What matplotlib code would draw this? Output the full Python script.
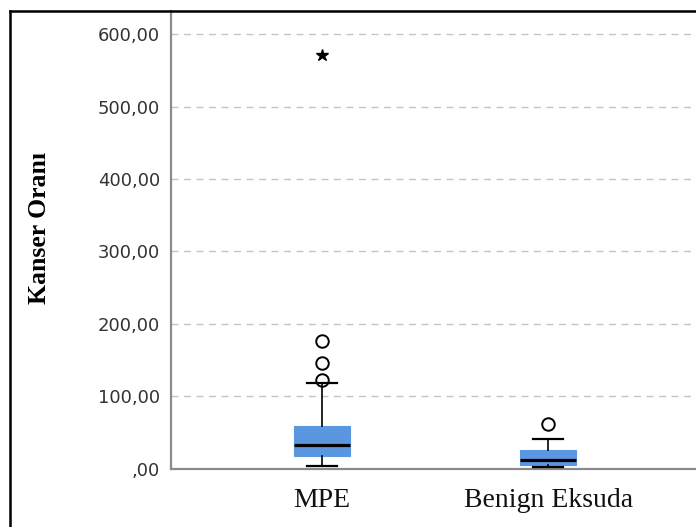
import matplotlib.pyplot as plt
from matplotlib.lines import Line2D

groups = ['MPE', 'Benign Eksuda']
q1 = [17.3, 4.8]
med = [32.5, 11.7]
q3 = [58.7, 25.6]
whislo = [3.5, 2.0]
whishi = [118.0, 40.7]
outliers = [[122.2, 145.3, 176.5], [61.5]]
extremes = [[571.0], []]

yticks = [0, 100, 200, 300, 400, 500, 600]
yticklabels = [',00', '100,00', '200,00', '300,00', '400,00', '500,00', '600,00']

box_color = '#5a97e0'

fig = plt.figure(figsize=(6.96, 5.27), dpi=100)
ax = fig.add_axes([171 / 696, 1 - 468.5 / 527, 528 / 696, 457.5 / 527])

stats = []
for i, g in enumerate(groups):
    stats.append(dict(label=g, q1=q1[i], med=med[i], q3=q3[i],
                      whislo=whislo[i], whishi=whishi[i], fliers=outliers[i]))

pos = [1, 2]
ax.bxp(stats, positions=pos, widths=0.25, capwidths=0.13, patch_artist=True,
       boxprops=dict(facecolor=box_color, edgecolor=box_color, linewidth=0.8),
       medianprops=dict(color='black', linewidth=2.3),
       whiskerprops=dict(color='black', linewidth=1.2),
       capprops=dict(color='black', linewidth=1.6),
       flierprops=dict(marker='o', markersize=9, markerfacecolor='none',
                       markeredgecolor='black', markeredgewidth=1.4),
       zorder=3)

# extreme values drawn as asterisks
for p, ext in zip(pos, extremes):
    if ext:
        ax.plot([p] * len(ext), ext, linestyle='none', marker='*',
                markersize=9, color='black', zorder=4)

ax.set_xlim(1 / 3, 8 / 3)
ax.set_ylim(0, 632)
ax.set_yticks(yticks)
ax.set_yticklabels(yticklabels, fontfamily='DejaVu Sans', fontsize=13, color='#333333')
ax.set_xticks(pos)
ax.set_xticklabels(groups, fontfamily='Liberation Serif', fontsize=20, color='#111111')
ax.tick_params(axis='y', length=0, pad=8)
ax.tick_params(axis='x', length=0, pad=14)

for y in yticks[1:]:
    ax.axhline(y, color='#c4c4c4', linewidth=1.0, linestyle=(0, (5, 4)), zorder=1)

for s in ['top', 'right']:
    ax.spines[s].set_visible(False)
for s in ['left', 'bottom']:
    ax.spines[s].set_color('#8a8a8a')
    ax.spines[s].set_linewidth(1.6)

fig.text(40 / 696, 1 - 228 / 527, 'Kanser Oranı', rotation=90, ha='center', va='center',
         fontfamily='Liberation Serif', fontweight='bold', fontsize=18.5, color='black')

# outer frame
fig.add_artist(Line2D([10 / 696, 10 / 696], [0, 1 - 11 / 527], color='black', linewidth=1.8))
fig.add_artist(Line2D([10 / 696, 1], [1 - 11 / 527, 1 - 11 / 527], color='black', linewidth=1.8))

fig.savefig('out.png', dpi=100)
